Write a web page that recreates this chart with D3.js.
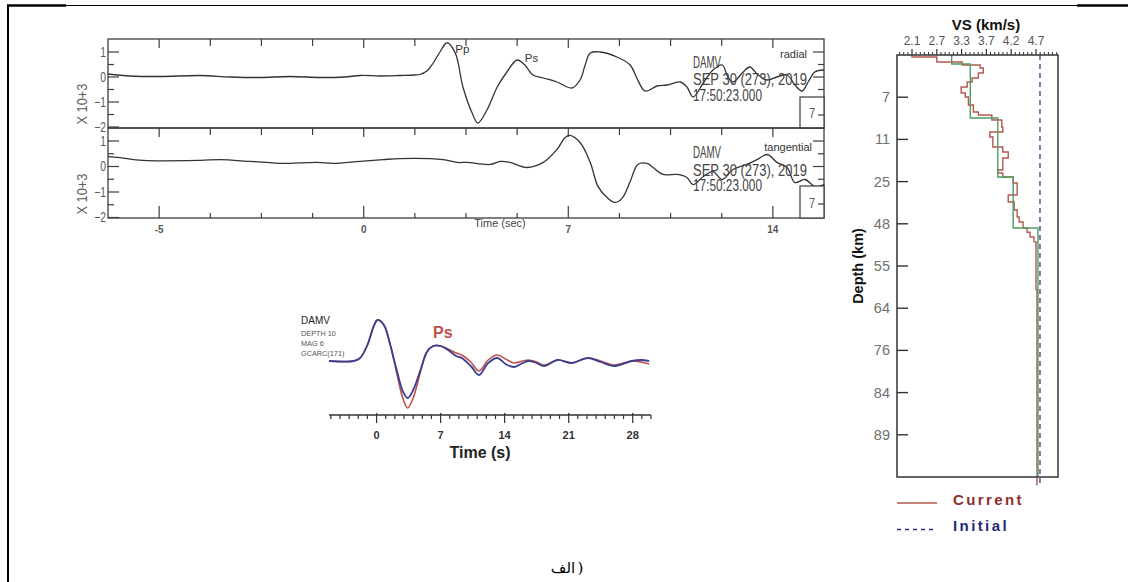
<!DOCTYPE html>
<html>
<head>
<meta charset="utf-8">
<script src="https://cdn.jsdelivr.net/npm/d3@7"></script>
<style>
  body { margin: 0; background: #fff; }
  svg { display: block; }
  .sans { font-family: "Liberation Sans", Arial, "DejaVu Sans", sans-serif; }
</style>
</head>
<body>
<svg id="fig" width="1129" height="582"></svg>
<script>
// ---------- Seismogram panel (radial / tangential) ----------
// x positions are in axis-tick units; labelled ticks carry the printed time values
const traceTickIndex = [1, 5, 9, 13];
const traceTickLabels = ["-5", "0", "7", "14"];
const ampTicks = [-2, -1, 0, 1];
const stationLines = ["DAMV", "SEP 30 (273), 2019", "17:50:23.000"];

const radialTrace = [
  [0,0.12],[0.43,0.04],[1.02,0.02],[1.8,0.06],[2.39,0.0],[2.97,-0.02],[3.56,0.02],[4.15,-0.02],
  [4.63,0.0],[4.93,0.06],[5.32,0.04],[5.71,0.06],[6.0,0.08],[6.1,0.1],[6.24,0.25],[6.36,0.56],
  [6.49,1.0],[6.63,1.37],[6.79,0.96],[6.94,-0.4],[7.12,-1.44],[7.23,-1.84],[7.41,-1.32],[7.61,-0.4],
  [7.8,0.2],[8.0,0.68],[8.15,0.48],[8.31,0.08],[8.51,-0.04],[8.78,-0.2],[9.07,-0.44],[9.23,-0.12],
  [9.33,0.48],[9.43,0.96],[9.62,1.0],[9.95,0.8],[10.21,0.48],[10.34,-0.04],[10.5,-0.56],[10.74,-0.36],
  [10.93,-0.32],[11.19,-0.2],[11.32,-0.4],[11.44,-0.8],[11.64,-0.24],[11.83,0.28],[12.01,0.48],
  [12.12,0.0],[12.22,-0.2],[12.42,0.2],[12.55,0.4],[12.71,0.08],[12.89,-0.12],[13.08,0.0],
  [13.28,0.08],[13.43,-0.32],[13.57,-0.56],[13.69,-0.2],[13.82,0.2],[14.0,0.28]
];

const tangentialTrace = [
  [0,0.39],[0.23,0.35],[0.68,0.24],[1.8,0.24],[2.19,0.27],[2.78,0.2],[3.11,0.16],[3.42,0.12],
  [4.09,0.16],[4.4,0.12],[4.93,0.2],[5.38,0.27],[5.71,0.31],[6.55,0.27],[6.82,0.16],[7.02,0.16],
  [7.47,0.08],[7.67,0.2],[7.86,0.16],[8.19,-0.04],[8.51,0.16],[8.78,0.67],[8.94,1.14],[9.03,1.22],
  [9.23,0.94],[9.43,0.16],[9.58,-0.78],[9.76,-1.22],[9.91,-1.41],[10.05,-1.25],[10.21,-0.59],
  [10.36,0.08],[10.54,0.12],[10.66,-0.04],[10.85,-0.31],[11.13,-0.31],[11.32,-0.43],[11.44,-0.71],
  [11.64,-0.39],[11.83,-0.2],[12.01,-0.51],[12.22,-0.12],[12.49,0.08],[12.69,0.27],[12.89,0.47],
  [13.08,0.16],[13.28,-0.04],[13.43,-0.63],[13.63,-0.51],[13.82,-0.78],[14.0,-0.71]
];

const phasePicks = [
  { label: "Pp", t: 6.79, amp: 0.95 },
  { label: "Ps", t: 8.15, amp: 0.6 }
];

// ---------- Receiver function panel ----------
const rfMajorTicks = [0, 7, 14, 21, 28];
const rfInfoLines = ["DEPTH 10", "MAG 6", "GCARC(171)"];
const rfObserved = [
  [-5.2,0],[-2.5,0],[-1.8,0.075],[-1.0,0.4],[-0.3,0.875],[0.1,1.025],[0.8,0.9],[1.5,0.4],
  [2.2,-0.225],[2.9,-0.775],[3.4,-0.925],[4.0,-0.725],[4.8,-0.225],[5.5,0.225],[6.2,0.375],
  [7.0,0.375],[7.8,0.275],[8.7,0.125],[9.3,0.075],[10.3,-0.125],[11.2,-0.35],[12.2,-0.05],
  [13.2,0.075],[14.1,-0.075],[15.0,-0.15],[16.0,-0.05],[16.6,0],[17.5,-0.05],[18.3,-0.125],
  [19.8,0.025],[21.3,-0.05],[23.1,0.075],[24.5,-0.025],[26.0,-0.125],[27.9,0],[28.9,0.025],[29.8,0]
];
const rfPredicted = [
  [-5.2,0],[-2.5,0],[-1.8,0.075],[-1.0,0.4],[-0.3,0.875],[0.1,1.025],[0.8,0.9],[1.5,0.4],
  [2.2,-0.3],[2.9,-0.95],[3.4,-1.175],[4.0,-0.925],[4.8,-0.275],[5.5,0.225],[6.2,0.375],
  [7.0,0.375],[7.8,0.3],[8.7,0.2],[9.3,0.15],[10.3,-0.025],[11.2,-0.25],[12.2,0.025],
  [13.2,0.15],[14.1,0.05],[15.0,-0.05],[16.0,0],[16.6,0.025],[17.5,-0.025],[18.3,-0.1],
  [19.8,0.025],[21.3,-0.05],[23.1,0.075],[24.5,0],[26.0,-0.1],[27.9,0],[28.9,-0.025],[29.8,-0.075]
];

// ---------- Shear-velocity profile ----------
const vsTickValues = [2.1, 2.7, 3.3, 3.7, 4.2, 4.7];
const depthTickValues = [7, 11, 25, 48, 55, 64, 76, 84, 89];
const depthExtent = [0, 95];
// [layer top depth (km), Vs (km/s)]
const currentModel = [
  [0,2.10],[0.33,2.70],[1.16,3.31],[1.66,3.60],[2.16,3.65],[2.99,3.57],[3.82,3.47],[4.48,3.39],
  [5.31,3.29],[6.30,3.36],[6.97,3.41],[7.74,3.49],[8.40,3.57],[8.69,3.81],[9.16,4.01],[9.82,4.03],
  [10.3,3.77],[10.77,3.83],[13.52,4.03],[15.18,4.14],[17.17,4.03],[21.15,3.93],[22.15,4.03],
  [23.47,4.24],[25.76,4.32],[32.3,4.14],[36.1,4.26],[40.5,4.32],[44.3,4.36],[47.0,4.44],
  [48.7,4.52],[49.4,4.58],[50.2,4.66],[51.0,4.70],[60,4.72]
];
const layeredModel = [[0,3.06],[1.49,3.44],[8.97,3.93],[23.47,4.24],[48.7,4.74]];
const initialVs = 4.78;
const legendItems = [
  { label: "Current", color: "#8e2f2c", line: "#b5574f", dash: null },
  { label: "Initial", color: "#1f2a7c", line: "#2a2f86", dash: "4,4" }
];

const captionWord = "الف";
const captionClose = ")";

const svg = d3.select("#fig");

// condensed text: Liberation Sans squeezed horizontally
function narrow(parent, x, y, str, size, opts = {}) {
  return parent.append("text").attr("class", "sans")
    .attr("transform", `translate(${x},${y}) scale(${opts.sx || 0.74},1)`)
    .attr("text-anchor", opts.anchor || "start")
    .attr("font-size", size).attr("fill", opts.fill || "#555").text(str);
}

// ---------- page frame ----------
const frame = svg.append("g").attr("stroke", "#000").attr("fill", "none");
frame.append("line").attr("x1", 8).attr("y1", 5.5).attr("x2", 1128).attr("y2", 5.5).attr("stroke-width", 1.2);
frame.append("line").attr("x1", 7).attr("y1", 5.5).attr("x2", 66).attr("y2", 5.5).attr("stroke-width", 2.4);
frame.append("line").attr("x1", 1077).attr("y1", 5.5).attr("x2", 1128).attr("y2", 5.5).attr("stroke-width", 2.4);
frame.append("line").attr("x1", 8).attr("y1", 5).attr("x2", 8).attr("y2", 582).attr("stroke-width", 2);

// ---------- seismogram panels ----------
const xT = d3.scaleLinear().domain([0, 14]).range([108, 824]);
const panels = [
  { name: "radial", trace: radialTrace, top: 39, bottom: 128,
    y: d3.scaleLinear().domain([-2, 1]).range([127, 52]), nameX: 807,
    nameY: 58, textY: [67.5, 85, 100.5], boxTop: 97, sevenY: 118, sevenTick: 115, picks: true },
  { name: "tangential", trace: tangentialTrace, top: 128, bottom: 218,
    y: d3.scaleLinear().domain([-2, 1]).range([217.5, 141]), nameX: 812,
    nameY: 151, textY: [158, 176, 191], boxTop: 186, sevenY: 208, sevenTick: 204, picks: false }
];
const stationWidths = [28, 114, 69];
const seis = svg.append("g");
const traceLine = d3.line().x(d => xT(d[0])).curve(d3.curveCatmullRom.alpha(0.5));
const ink = "#3d3d3d";

panels.forEach(p => {
  const g = seis.append("g");
  g.append("rect").attr("x", xT(0)).attr("y", p.top).attr("width", xT(14) - xT(0))
    .attr("height", p.bottom - p.top).attr("fill", "none").attr("stroke", ink).attr("stroke-width", 1.3);

  // amplitude ticks, left and right
  const halfSteps = d3.range(-2, 1.01, 0.5).filter(v => p.y(v) > p.top + 2);
  halfSteps.forEach(v => {
    const len = Number.isInteger(v) ? 11 : 6;
    g.append("line").attr("x1", xT(0)).attr("x2", xT(0) + len).attr("y1", p.y(v)).attr("y2", p.y(v))
      .attr("stroke", ink).attr("stroke-width", 1.2);
    g.append("line").attr("x1", xT(14)).attr("x2", xT(14) - len).attr("y1", p.y(v)).attr("y2", p.y(v))
      .attr("stroke", ink).attr("stroke-width", 1.2);
  });
  ampTicks.forEach(v => {
    narrow(g, 106, p.y(v) + 4.5, d3.format("d")(v), 14, { anchor: "end", fill: "#5a5a5a" });
  });
  g.append("text").attr("class", "sans")
    .attr("transform", `translate(87,${(p.y(-2) + p.y(0)) / 2 + 2}) rotate(-90)`)
    .attr("text-anchor", "middle").attr("font-size", 14.5).attr("fill", "#5a5a5a")
    .attr("textLength", 41).attr("lengthAdjust", "spacingAndGlyphs").text("X 10+3");

  // time ticks along the top of each panel
  d3.range(1, 14).forEach(i => {
    const major = traceTickIndex.includes(i);
    g.append("line").attr("x1", xT(i)).attr("x2", xT(i)).attr("y1", p.top).attr("y2", p.top + (major ? 9 : 7))
      .attr("stroke", ink).attr("stroke-width", 1.2);
  });

  // waveform
  g.append("path").datum(p.trace).attr("fill", "none").attr("stroke", "#333").attr("stroke-width", 1.3)
    .attr("d", traceLine.y(d => p.y(d[1])));

  // header text
  g.append("text").attr("class", "sans").attr("x", p.nameX).attr("y", p.nameY).attr("text-anchor", "end")
    .attr("font-size", 11).attr("fill", "#333").text(p.name);
  stationLines.forEach((s, k) => {
    g.append("text").attr("class", "sans").attr("x", 693).attr("y", p.textY[k])
      .attr("font-size", 16).attr("fill", "#444")
      .attr("textLength", stationWidths[k]).attr("lengthAdjust", "spacingAndGlyphs").text(s);
  });

  // scale box in the lower-right corner
  g.append("rect").attr("x", 800).attr("y", p.boxTop).attr("width", 24).attr("height", p.bottom - p.boxTop)
    .attr("fill", "#fff").attr("stroke", ink).attr("stroke-width", 1.2);
  narrow(g, 812, p.sevenY, "7", 15, { anchor: "middle", fill: "#555" });
  g.append("line").attr("x1", 818).attr("x2", 824).attr("y1", p.sevenTick).attr("y2", p.sevenTick)
    .attr("stroke", ink).attr("stroke-width", 1.2);

  if (p.picks) {
    phasePicks.forEach(ph => {
      g.append("text").attr("class", "sans").attr("x", xT(ph.t)).attr("y", p.y(ph.amp))
        .attr("font-size", 11.5).attr("fill", "#333").text(ph.label);
    });
  }
});

// bottom time axis of the tangential panel
d3.range(1, 14).forEach(i => {
  const major = traceTickIndex.includes(i);
  seis.append("line").attr("x1", xT(i)).attr("x2", xT(i)).attr("y1", 218).attr("y2", 218 - (major ? 12 : 5))
    .attr("stroke", ink).attr("stroke-width", 1.2);
});
traceTickIndex.forEach((i, k) => {
  seis.append("text").attr("class", "sans").attr("x", xT(i)).attr("y", 233).attr("text-anchor", "middle")
    .attr("font-size", 10).attr("font-weight", "bold").attr("fill", "#555").text(traceTickLabels[k]);
});
seis.append("text").attr("class", "sans").attr("x", 500).attr("y", 227).attr("text-anchor", "middle")
  .attr("font-size", 11).attr("fill", "#444").text("Time (sec)");

// ---------- receiver function panel ----------
const xRF = d3.scaleLinear().domain([-5.2, 30]).range([329, 651]);
const yRF = d3.scaleLinear().domain([-1, 1]).range([401, 321]);
const rf = svg.append("g");
const rfLine = d3.line().x(d => xRF(d[0])).y(d => yRF(d[1])).curve(d3.curveCatmullRom.alpha(0.5));
rf.append("path").datum(rfPredicted).attr("fill", "none").attr("stroke", "#c0504d").attr("stroke-width", 1.6).attr("d", rfLine);
rf.append("path").datum(rfObserved).attr("fill", "none").attr("stroke", "#3b3f8f").attr("stroke-width", 1.8).attr("d", rfLine);

const axisY = 415;
rf.append("line").attr("x1", xRF(-5.2)).attr("x2", xRF(30)).attr("y1", axisY).attr("y2", axisY)
  .attr("stroke", "#333").attr("stroke-width", 1.4);
d3.range(-5, 31).forEach(t => {
  const major = rfMajorTicks.includes(t);
  rf.append("line").attr("x1", xRF(t)).attr("x2", xRF(t)).attr("y1", axisY - (major ? 2 : 0)).attr("y2", axisY + (major ? 8 : 4))
    .attr("stroke", "#333").attr("stroke-width", 1.2);
});
rfMajorTicks.forEach(t => {
  rf.append("text").attr("class", "sans").attr("x", xRF(t)).attr("y", 439).attr("text-anchor", "middle")
    .attr("font-size", 11).attr("font-weight", "bold").attr("fill", "#333").text(t);
});
rf.append("text").attr("class", "sans").attr("x", 480).attr("y", 458).attr("text-anchor", "middle")
  .attr("font-size", 16).attr("font-weight", "bold").attr("fill", "#222").text("Time (s)");
rf.append("text").attr("class", "sans").attr("x", 301).attr("y", 323.5)
  .attr("font-size", 10).attr("fill", "#222").text("DAMV");
rfInfoLines.forEach((s, k) => {
  rf.append("text").attr("class", "sans").attr("x", 301).attr("y", 336 + k * 9.8)
    .attr("font-size", 7.3).attr("fill", "#555").text(s);
});
rf.append("text").attr("class", "sans").attr("x", 433).attr("y", 338)
  .attr("font-size", 16).attr("font-weight", "bold").attr("fill", "#c0504d").text("Ps");

// ---------- Vs profile ----------
const xV = d3.scaleLinear().domain(vsTickValues).range(vsTickValues.map((d, i) => 912 + i * 24.8));
const depthStops = [depthExtent[0], ...depthTickValues, depthExtent[1]];
const yD = d3.scaleLinear().domain(depthStops).range(depthStops.map((d, i) => 55 + i * 42.2));
const box = { x0: 897, x1: 1058, y0: 55, y1: 477 };
const vp = svg.append("g");

function stepPoints(model, bottom) {
  const pts = [];
  model.forEach((layer, i) => {
    const next = i + 1 < model.length ? model[i + 1][0] : bottom;
    pts.push([layer[1], layer[0]], [layer[1], next]);
  });
  return pts;
}
const profileLine = d3.line().x(d => xV(d[0])).y(d => yD(d[1]));

vp.append("path").datum(stepPoints(currentModel, 96.2)).attr("fill", "none")
  .attr("stroke", "#b5574f").attr("stroke-width", 1.4).attr("d", profileLine);
vp.append("path").datum(stepPoints(layeredModel, 95)).attr("fill", "none")
  .attr("stroke", "#4f9d61").attr("stroke-width", 1.4).attr("d", profileLine);
vp.append("path").datum([[initialVs, 0], [initialVs, 96.2]]).attr("fill", "none")
  .attr("stroke", "#5a5fab").attr("stroke-width", 1.6).attr("stroke-dasharray", "5,4").attr("d", profileLine);

vp.append("rect").attr("x", box.x0).attr("y", box.y0).attr("width", box.x1 - box.x0).attr("height", box.y1 - box.y0)
  .attr("fill", "none").attr("stroke", "#333").attr("stroke-width", 1.5);

// top Vs axis: labelled ticks plus fine subdivisions
const minorVs = [];
for (let i = 0; i < vsTickValues.length - 1; i++) {
  const a = vsTickValues[i], b = vsTickValues[i + 1];
  for (let k = 1; k < 6; k++) minorVs.push(a + (b - a) * k / 6);
}
for (let k = 1; k <= 3; k++) minorVs.push(2.1 - 0.1 * k);
for (let k = 1; k <= 5; k++) minorVs.push(4.7 + 0.5 * k / 6);
minorVs.forEach(v => {
  vp.append("line").attr("x1", xV(v)).attr("x2", xV(v)).attr("y1", box.y0).attr("y2", box.y0 - 3)
    .attr("stroke", "#333").attr("stroke-width", 1);
});
vsTickValues.forEach(v => {
  vp.append("line").attr("x1", xV(v)).attr("x2", xV(v)).attr("y1", box.y0).attr("y2", box.y0 - 6)
    .attr("stroke", "#333").attr("stroke-width", 1.2);
  vp.append("text").attr("class", "sans").attr("x", xV(v)).attr("y", 44.5).attr("text-anchor", "middle")
    .attr("font-size", 12).attr("fill", "#555").text(v.toFixed(1));
});
vp.append("text").attr("class", "sans").attr("x", 986).attr("y", 30).attr("text-anchor", "middle")
  .attr("font-size", 15).attr("font-weight", "bold").attr("fill", "#111").text("VS (km/s)");

// depth axis
depthTickValues.forEach(d => {
  vp.append("line").attr("x1", box.x0).attr("x2", box.x0 + 11).attr("y1", yD(d)).attr("y2", yD(d))
    .attr("stroke", "#333").attr("stroke-width", 1.4);
  vp.append("text").attr("class", "sans").attr("x", 890).attr("y", yD(d) + 5).attr("text-anchor", "end")
    .attr("font-size", 14.5).attr("fill", "#707070").text(d);
});
vp.append("text").attr("class", "sans").attr("transform", "translate(863,266) rotate(-90)")
  .attr("text-anchor", "middle").attr("font-size", 14.5).attr("font-weight", "bold").attr("fill", "#111")
  .text("Depth (km)");

// legend
legendItems.forEach((it, k) => {
  const ly = 503 + k * 26.5;
  vp.append("line").attr("x1", 897).attr("x2", 937).attr("y1", ly).attr("y2", ly)
    .attr("stroke", it.line).attr("stroke-width", 1.6).attr("stroke-dasharray", it.dash);
  vp.append("text").attr("class", "sans").attr("x", 953).attr("y", ly + 1.5)
    .attr("font-size", 15).attr("font-weight", "bold").attr("letter-spacing", 2.4)
    .attr("fill", it.color).text(it.label);
});

// ---------- caption: word centred, closing parenthesis set just to its right ----------
const capFont = "'DejaVu Serif', 'Liberation Serif', 'DejaVu Sans', serif";
svg.append("text").attr("x", 563).attr("y", 573).attr("text-anchor", "middle")
  .attr("font-family", capFont).attr("font-size", 15).attr("fill", "#000").text(captionWord);
svg.append("text").attr("x", 577.5).attr("y", 573).attr("text-anchor", "start")
  .attr("direction", "ltr")
  .attr("font-family", capFont).attr("font-size", 15).attr("fill", "#000").text(captionClose);
</script>
</body>
</html>
